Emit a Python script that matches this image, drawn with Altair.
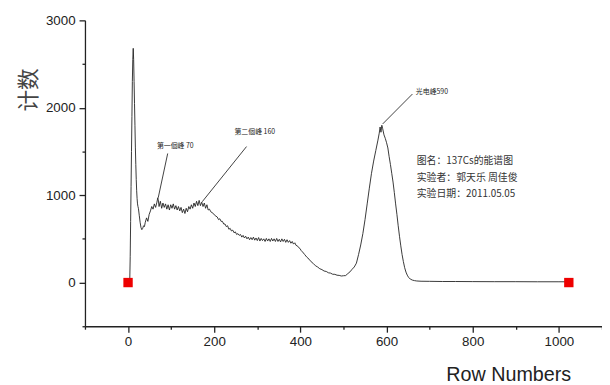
import altair as alt
import pandas as pd

channel = [0, 2, 4, 5, 6, 7, 8, 9, 10, 11, 12, 13, 14, 15, 16, 17, 18, 19, 20, 21, 22, 23, 24,
           26, 28, 30, 32, 34, 36, 38,
           40, 43, 46, 49, 52, 55, 58, 61, 64, 67, 69, 70,
           72, 75, 78, 81, 84, 87, 90, 93, 96, 99, 102, 105, 108, 111, 114, 117, 120, 123, 126,
           129, 132, 135, 138, 141, 144, 147, 150, 153, 156, 159, 162, 165, 168, 171, 174, 177,
           180, 183, 186, 189, 192, 195, 198, 201, 204, 207, 210, 213, 216, 219, 222, 225, 228,
           231, 234, 237, 240, 243, 246, 249, 252, 255, 258, 261, 264, 267, 270, 273, 276, 279,
           282, 285, 288, 291, 294, 297, 300, 303, 306, 309, 312, 315, 318, 321, 324, 327, 330,
           333, 336, 339, 342, 345, 348, 351, 354, 357, 360, 363, 366, 369, 372, 375, 378, 381,
           384, 387, 390, 393, 396, 399, 402, 405,
           410, 415, 420, 425, 430, 435, 440, 445, 450, 455, 460, 465, 470, 475, 480, 485, 490,
           495, 500, 505, 510, 515, 520, 525, 530, 535, 540, 545, 550, 555, 560, 565, 570, 575,
           580, 583, 585, 587, 589, 591, 594, 597, 600, 603, 606, 609, 612, 615, 618, 621, 624,
           627, 630, 633, 636, 639, 642, 645, 648, 651, 655, 660, 665, 670, 680, 700, 730, 760,
           800, 850, 900, 950, 1000, 1023]
counts = [0, 0, 30, 300, 700, 1100, 1500, 1900, 2300, 2550, 2680, 2550, 2300, 2050, 1800, 1550,
          1350, 1180, 1050, 960, 900, 870, 850,
          770, 690, 630, 605, 620, 650, 640,
          690, 740, 700, 780, 820, 870, 840, 900, 860, 920, 970, 950,
          870, 930, 850, 910, 860, 900, 840, 890, 830, 890, 850, 900, 840, 880, 830, 870, 820,
          860, 800,
          840, 790, 850, 810, 870, 840, 890, 850, 910, 870, 930, 880, 940, 880, 920, 870, 910,
          850, 890, 830, 840, 810, 800, 790, 770, 760, 750, 720, 730, 700, 700, 670, 670, 640,
          650, 610, 620, 590, 600, 570, 580, 550, 560, 540, 550, 520, 540, 510, 530, 500, 520,
          490, 515, 490, 520, 485, 510, 480, 515, 475, 505, 480, 500, 470, 505, 475, 500, 470,
          505, 475, 500, 470, 505, 470, 495, 465, 500, 470, 495, 460, 490, 460, 480, 450, 470,
          440, 455, 425, 420, 400, 390, 365, 350,
          320, 290, 268, 238, 218, 192, 178, 158, 148, 132, 127, 112, 108, 95, 94, 84, 82,
          75, 78, 80, 102, 122, 152, 178, 222, 320, 430,
          560, 720, 900, 1080, 1250, 1390, 1510,
          1630, 1710, 1780, 1720, 1800, 1760, 1690, 1650, 1600, 1540, 1440, 1350, 1250, 1150,
          1030, 900, 780,
          650, 530, 420, 320, 240, 170, 120, 85, 60, 40, 28, 22, 18, 15, 14, 12, 12,
          11, 10, 10, 9, 9, 9]

marker_x = [0, 1023]
marker_y = [0, 0]

ann_from_x = [70, 172, 591]
ann_from_y = [970, 924, 1815]
ann_to_x = [92, 275, 660]
ann_to_y = [1477, 1556, 2157]
ann_label = ["第一個峰 70", "第二個峰 160", "光电峰590"]
ann_label_x = [67, 247, 668]
ann_label_y = [1567, 1725, 2176]

info_lines = ["图名：137Cs的能谱图", "实验者：郭天乐 周佳俊", "实验日期：2011.05.05"]
info_x = [670, 670, 670]
info_y = [1387, 1201, 1015]

x_ticks = list(range(-100, 1101, 100))
y_ticks = list(range(-500, 3001, 500))

spec_df = pd.DataFrame({"x": channel, "y": counts})
mark_df = pd.DataFrame({"x": marker_x, "y": marker_y})
ann_df = pd.DataFrame({"x": ann_from_x, "y": ann_from_y, "x2": ann_to_x, "y2": ann_to_y})
lab_df = pd.DataFrame({"x": ann_label_x, "y": ann_label_y, "t": ann_label})
info_df = pd.DataFrame({"x": info_x, "y": info_y, "t": info_lines})

xscale = alt.Scale(domain=[-100, 1100], nice=False, zero=False)
yscale = alt.Scale(domain=[-500, 3000], nice=False, zero=False)

x_axis = alt.Axis(
    values=x_ticks, format="d", grid=False,
    labelExpr="datum.value % 200 === 0 ? datum.label : ''",
    tickSize={"condition": {"test": "datum.value % 200 === 0", "value": 6}, "value": 3},
    title="Row Numbers", titleFontSize=20, titleFont="Liberation Sans",
    titleFontWeight="normal", titleColor="#222", titleX=429, titleY=55,
    titleAlign="center", titleBaseline="alphabetic",
    labelFont="Liberation Sans", labelFontSize=13.5, labelColor="#222", labelPadding=3,
    domainColor="#222", tickColor="#222", domainWidth=1.3, tickWidth=1.3,
)
y_axis = alt.Axis(
    values=y_ticks, format="d", grid=False,
    labelExpr="datum.value % 1000 === 0 ? datum.label : ''",
    tickSize={"condition": {"test": "datum.value % 1000 === 0", "value": 6}, "value": 3},
    title="计数", titleFontSize=22, titleFont="Noto Sans CJK SC",
    titleFontWeight="normal", titleColor="#444", titleX=-57, titleY=70,
    titleAngle=270, titleAlign="center", titleBaseline="middle",
    labelFont="Liberation Sans", labelFontSize=13.5, labelColor="#222", labelPadding=4,
    domainColor="#222", tickColor="#222", domainWidth=1.3, tickWidth=1.3,
)

xe = alt.X("x:Q", scale=xscale, axis=x_axis)
ye = alt.Y("y:Q", scale=yscale, axis=y_axis)

line = alt.Chart(spec_df).mark_line(color="#222", strokeWidth=0.9).encode(x=xe, y=ye)
squares = alt.Chart(mark_df).mark_square(color="#ee0000", size=90, opacity=1).encode(x=xe, y=ye)
rules = alt.Chart(ann_df).mark_rule(color="#111", strokeWidth=0.8).encode(
    x=xe, y=ye, x2="x2:Q", y2="y2:Q")
labels = alt.Chart(lab_df).mark_text(
    align="left", baseline="middle", fontSize=7, font="Noto Sans CJK SC", color="#222"
).encode(x=xe, y=ye, text="t:N")
info = alt.Chart(info_df).mark_text(
    align="left", baseline="middle", fontSize=10, font="Noto Sans CJK SC", color="#333"
).encode(x=xe, y=ye, text="t:N")

chart = alt.layer(line, squares, rules, labels, info).properties(
    width=524, height=310,
    autosize=alt.AutoSizeParams(type="none"),
    padding={"left": 78, "top": 10, "right": 0, "bottom": 57},
).configure_view(stroke=None)

chart.save("out.html", embed_options={"renderer": "svg", "actions": False})
